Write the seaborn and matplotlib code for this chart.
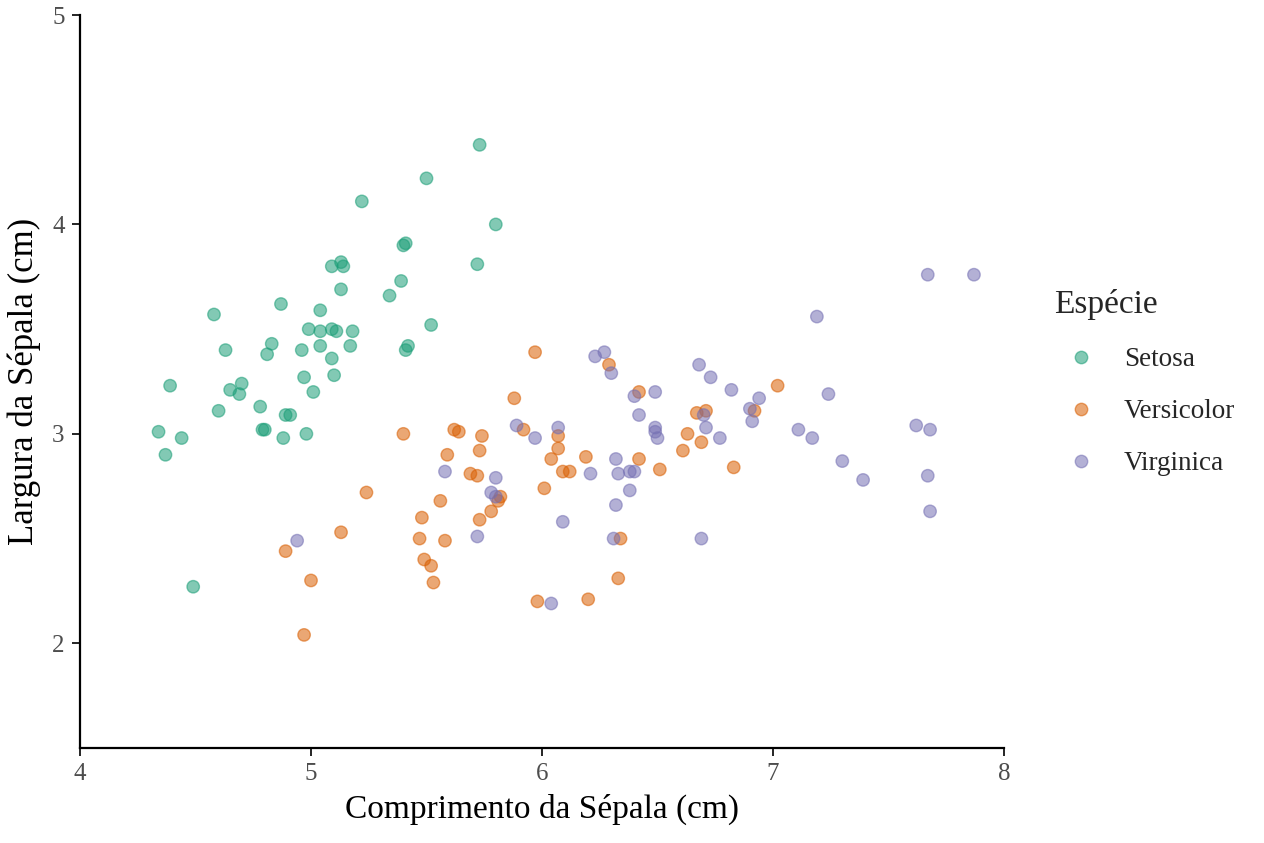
import matplotlib
matplotlib.use("Agg")
import matplotlib.pyplot as plt
import seaborn as sns
import pandas as pd

# valores (pontos com jitter)
setosa_x = [5.50, 5.22, 5.40, 5.41, 5.09, 5.13, 5.14, 5.39, 5.13, 5.34,
            4.87, 4.58, 5.04, 5.52, 4.99, 5.04, 5.09, 5.11, 5.18, 5.42,
            5.41, 4.63, 4.83, 4.81, 4.96, 5.04, 5.17, 5.09, 4.97, 5.10,
            5.01, 4.39, 4.65, 4.70, 4.69, 4.60, 4.78, 4.89, 4.91, 4.79,
            4.80, 4.34, 4.44, 4.88, 4.98, 4.37, 5.73, 5.80, 5.72, 4.49]
setosa_y = [4.22, 4.11, 3.90, 3.91, 3.80, 3.82, 3.80, 3.73, 3.69, 3.66,
            3.62, 3.57, 3.59, 3.52, 3.50, 3.49, 3.50, 3.49, 3.49, 3.42,
            3.40, 3.40, 3.43, 3.38, 3.40, 3.42, 3.42, 3.36, 3.27, 3.28,
            3.20, 3.23, 3.21, 3.24, 3.19, 3.11, 3.13, 3.09, 3.09, 3.02,
            3.02, 3.01, 2.98, 2.98, 3.00, 2.90, 4.38, 4.00, 3.81, 2.27]

versicolor_x = [5.24, 5.13, 4.89, 5.00, 4.97, 5.97, 6.29, 5.88, 6.42, 5.40,
                5.62, 5.64, 5.92, 6.07, 6.07, 5.74, 5.73, 5.59, 6.04, 6.19,
                6.61, 6.42, 6.09, 6.12, 6.51, 5.69, 5.72, 6.01, 5.82, 5.81,
                5.56, 5.78, 5.48, 5.73, 5.47, 5.58, 6.34, 5.49, 5.52, 5.53,
                6.33, 5.98, 6.20, 7.02, 6.92, 6.67, 6.71, 6.63, 6.69, 6.83]
versicolor_y = [2.72, 2.53, 2.44, 2.30, 2.04, 3.39, 3.33, 3.17, 3.20, 3.00,
                3.02, 3.01, 3.02, 2.99, 2.93, 2.99, 2.92, 2.90, 2.88, 2.89,
                2.92, 2.88, 2.82, 2.82, 2.83, 2.81, 2.80, 2.74, 2.70, 2.68,
                2.68, 2.63, 2.60, 2.59, 2.50, 2.49, 2.50, 2.40, 2.37, 2.29,
                2.31, 2.20, 2.21, 3.23, 3.11, 3.10, 3.11, 3.00, 2.96, 2.84]

virginica_x = [4.94, 6.23, 6.27, 6.30, 6.40, 6.49, 6.42, 6.49, 6.49, 6.50,
               5.89, 5.97, 6.07, 6.32, 6.21, 6.33, 6.38, 6.40, 5.58, 5.80,
               6.38, 5.78, 5.80, 6.32, 6.09, 5.72, 6.31, 6.04, 6.68, 6.73,
               6.82, 7.24, 6.94, 6.90, 6.91, 6.70, 6.71, 6.77, 7.11, 7.17,
               6.69, 7.67, 7.87, 7.19, 7.30, 7.39, 7.62, 7.68, 7.67, 7.68]
virginica_y = [2.49, 3.37, 3.39, 3.29, 3.18, 3.20, 3.09, 3.03, 3.01, 2.98,
               3.04, 2.98, 3.03, 2.88, 2.81, 2.81, 2.82, 2.82, 2.82, 2.79,
               2.73, 2.72, 2.70, 2.66, 2.58, 2.51, 2.50, 2.19, 3.33, 3.27,
               3.21, 3.19, 3.17, 3.12, 3.06, 3.09, 3.03, 2.98, 3.02, 2.98,
               2.50, 3.76, 3.76, 3.56, 2.87, 2.78, 3.04, 3.02, 2.80, 2.63]

especies = ["Setosa", "Versicolor", "Virginica"]
cores = ["#1B9E77", "#D95F02", "#7570B3"]

df = pd.DataFrame({
    "comprimento": setosa_x + versicolor_x + virginica_x,
    "largura": setosa_y + versicolor_y + virginica_y,
    "especie": ["Setosa"] * len(setosa_x) + ["Versicolor"] * len(versicolor_x)
               + ["Virginica"] * len(virginica_x),
})

sns.set_style("white")
plt.rcParams["font.family"] = ["Liberation Serif", "DejaVu Serif"]

fig = plt.figure(figsize=(12.64, 8.43), dpi=100)
ax = fig.add_axes([0.0633, 0.1127, 0.7310, 0.8695])

sns.scatterplot(
    data=df, x="comprimento", y="largura", hue="especie",
    hue_order=especies, palette=cores, alpha=0.55, s=80,
    edgecolor=None, linewidth=1.0, ax=ax, legend=True,
)
# borda da mesma cor do preenchimento
for coll in ax.collections:
    coll.set_edgecolor(coll.get_facecolor())

ax.set_xlim(4, 8)
ax.set_ylim(1.5, 5)
ax.set_xticks([4, 5, 6, 7, 8])
ax.set_yticks([2, 3, 4, 5])
ax.set_xlabel("Comprimento da Sépala (cm)", fontsize=24, color="black", labelpad=6)
ax.set_ylabel("Largura da Sépala (cm)", fontsize=25, color="black", labelpad=8)
ax.tick_params(axis="both", direction="out", length=6, width=1.2,
               labelsize=18, labelcolor="#4D4D4D", color="black", pad=5)
ax.tick_params(left=True, bottom=True)
sns.despine(ax=ax)
for side in ["left", "bottom"]:
    ax.spines[side].set_linewidth(1.6)
    ax.spines[side].set_color("black")

handles, labels = ax.get_legend_handles_labels()
leg = ax.legend(
    handles, labels, title="Espécie", frameon=False,
    loc="upper left", bbox_to_anchor=(0.8143, 0.686),
    bbox_transform=fig.transFigure,
    fontsize=19.5, title_fontsize=24, labelspacing=1.0,
    handletextpad=0.6, markerscale=1.0,
)
leg._legend_box.align = "left"

fig.savefig("out.png", dpi=100)
